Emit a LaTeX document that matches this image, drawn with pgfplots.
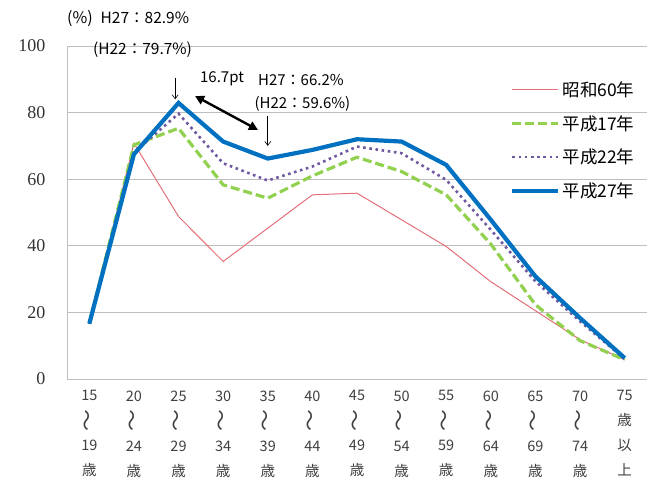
\documentclass[border=0pt]{standalone}
\usepackage{fontspec}
\setmainfont{Noto Sans CJK JP}
\newfontfamily\yfont{Liberation Serif}
\usepackage{graphicx}
\usepackage{pgfplots}
\pgfplotsset{compat=1.18}
\usetikzlibrary{arrows.meta}
\definecolor{pinkc}{RGB}{228,110,122}
\definecolor{greenc}{RGB}{146,208,80}
\definecolor{purplec}{RGB}{112,88,160}
\definecolor{bluec}{RGB}{0,112,192}
\definecolor{gridc}{RGB}{190,190,190}
\newcommand{\wave}{\rotatebox[origin=c]{90}{\scalebox{1.5}[1.4]{～}}}
\begin{document}
\begin{tikzpicture}
\path (-67pt,-103pt) rectangle (581pt,379pt);
\begin{axis}[
  at={(0,0)}, anchor=south west,
  scale only axis, width=580pt, height=333pt,
  xmin=-0.5, xmax=12.5, ymin=0, ymax=100,
  axis x line=bottom, axis y line=left,
  axis line style={gridc, -},
  xtick={0,...,12},
  xticklabels={{15\\\wave\\19\\歳},{20\\\wave\\24\\歳},{25\\\wave\\29\\歳},{30\\\wave\\34\\歳},{35\\\wave\\39\\歳},{40\\\wave\\44\\歳},{45\\\wave\\49\\歳},{50\\\wave\\54\\歳},{55\\\wave\\59\\歳},{60\\\wave\\64\\歳},{65\\\wave\\69\\歳},{70\\\wave\\74\\歳},{75\\歳\\以\\上}},
  xticklabel style={align=center, font=\fontsize{14.5}{25}\selectfont, text=black!75, yshift=-8pt},
  ytick={0,20,...,100},
  yticklabel={\yfont\fontsize{18}{20}\selectfont\pgfmathprintnumber{\tick}},
  yticklabel style={text=black!80, xshift=-18pt},
  /pgf/number format/assume math mode=true,
  major tick length=0pt,
  ymajorgrids, grid style={gridc, line width=0.8pt},
  clip=false,
  legend style={at={(0.764,0.9)}, anchor=north west, draw=none, fill=none,
    font=\fontsize{17.5}{19}\selectfont, row sep=13.5pt, inner sep=0pt},
  legend cell align=left,
  legend image code/.code={\draw[#1] (0pt,0pt) -- (46pt,0pt);},
]
\addplot[pinkc, line width=1pt] coordinates {(0,16.6) (1,70.8) (2,48.8) (3,35.3) (4,45.3) (5,55.3) (6,55.8) (7,47.8) (8,39.8) (9,29.2) (10,20.5) (11,11.8) (12,5.8)};
\addlegendentry{昭和60年}
\addplot[greenc, line width=3.2pt, dash pattern=on 9pt off 4pt] coordinates {(0,16.6) (1,70.3) (2,75.3) (3,58.3) (4,54.3) (5,61.0) (6,66.6) (7,62.3) (8,55.3) (9,40.5) (10,22.3) (11,11.5) (12,5.8)};
\addlegendentry{平成17年}
\addplot[purplec, line width=2.6pt, dash pattern=on 2.6pt off 3.6pt] coordinates {(0,16.6) (1,68.0) (2,79.7) (3,64.8) (4,59.6) (5,63.8) (6,69.8) (7,67.8) (8,59.8) (9,44.8) (10,29.3) (11,17.3) (12,6.0)};
\addlegendentry{平成22年}
\addplot[bluec, line width=4.2pt] coordinates {(0,16.6) (1,67.5) (2,82.9) (3,71.3) (4,66.2) (5,68.8) (6,72.0) (7,71.3) (8,64.3) (9,47.8) (10,30.8) (11,18.3) (12,6.3)};
\addlegendentry{平成27年}
\node[anchor=center, font=\fontsize{16}{18}\selectfont] at (axis cs:-0.21,108.4) {(\%)};
\node[anchor=west, font=\fontsize{15.5}{17}\selectfont, inner sep=0pt] at (axis cs:0.25,108.4) {H27：82.9\%};
\node[anchor=west, font=\fontsize{15.5}{17}\selectfont, inner sep=0pt] at (axis cs:0.08,98.8) {(H22：79.7\%)};
\node[anchor=west, font=\fontsize{15}{17}\selectfont, inner sep=0pt] at (axis cs:2.48,90.2) {16.7pt};
\node[anchor=west, font=\fontsize{15}{17}\selectfont, inner sep=0pt] at (axis cs:3.78,89.8) {H27：66.2\%};
\node[anchor=west, font=\fontsize{15}{17}\selectfont, inner sep=0pt] at (axis cs:3.70,82.6) {(H22：59.6\%)};
\draw[-{Straight Barb[length=4pt,width=6pt]}, line width=0.6pt] (axis cs:1.925,90.5) -- (axis cs:1.925,84.0);
\draw[-{Straight Barb[length=4pt,width=6pt]}, line width=0.6pt] (axis cs:4.0,79.0) -- (axis cs:4.0,70.0);
\draw[{Triangle[length=9pt,width=9pt]}-{Triangle[length=9pt,width=9pt]}, line width=2.4pt] (axis cs:2.37,85.0) -- (axis cs:3.78,74.8);
\end{axis}
\end{tikzpicture}
\end{document}
